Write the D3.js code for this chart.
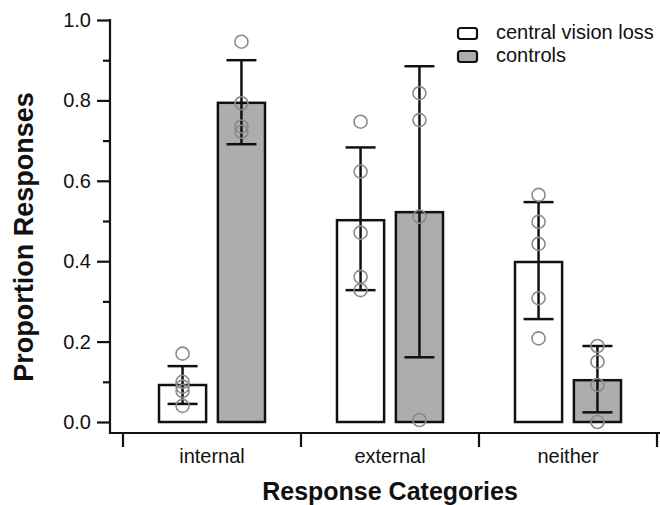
<!DOCTYPE html>
<html>
<head>
<meta charset="utf-8">
<script src="https://cdn.jsdelivr.net/npm/d3@7"></script>
<style>
  body { margin: 0; background: #fff; }
  svg { font-family: "Liberation Sans", Arial, Helvetica, sans-serif; }
  .tickLabel { font-size: 20px; fill: #111; }
  .axisTitle { font-weight: bold; fill: #111; }
</style>
</head>
<body>
<script>
//chart data
var categories = ["internal", "external", "neither"];
var groups = ["central vision loss", "controls"];
//bar heights (mean proportions)
var cvlMeans = [0.092, 0.502, 0.398];
var ctlMeans = [0.794, 0.522, 0.104];
//error bar ends
var cvlLow = [0.045, 0.328, 0.256];
var cvlHigh = [0.139, 0.683, 0.547];
var ctlLow = [0.691, 0.161, 0.024];
var ctlHigh = [0.900, 0.885, 0.189];
//individual participants
var cvlPoints = [
  [0.17, 0.10, 0.088, 0.077, 0.04],
  [0.747, 0.623, 0.471, 0.361, 0.328],
  [0.565, 0.498, 0.443, 0.308, 0.208]
];
var ctlPoints = [
  [0.946, 0.793, 0.735, 0.722],
  [0.818, 0.751, 0.511, 0.005],
  [0.189, 0.150, 0.092, 0.0]
];
var yMajor = [0, 0.2, 0.4, 0.6, 0.8, 1.0];
var yMinor = [0.1, 0.3, 0.5, 0.7, 0.9];

window.onload = function() {
  var w = 660, h = 505;
  var svg = d3.select("body").append("svg")
    .attr("width", w)
    .attr("height", h);

  //scales
  var y = d3.scaleLinear().domain([0, 1]).range([422, 20]);
  var x = d3.scaleBand().domain(categories).range([123, 657]);
  var xSub = d3.scaleBand().domain(groups).range([36, 142]).paddingInner(0.2);
  var fills = {"central vision loss": "#ffffff", "controls": "#adadad"};
  var axisY = 433;

  //one record per bar
  var bars = [];
  categories.forEach(function(c, i) {
    bars.push({cat: c, grp: groups[0], mean: cvlMeans[i], lo: cvlLow[i], hi: cvlHigh[i], pts: cvlPoints[i]});
    bars.push({cat: c, grp: groups[1], mean: ctlMeans[i], lo: ctlLow[i], hi: ctlHigh[i], pts: ctlPoints[i]});
  });
  function cx(d) { return x(d.cat) + xSub(d.grp) + xSub.bandwidth() / 2; }

  //y axis line
  svg.append("line")
    .attr("x1", 110).attr("x2", 110)
    .attr("y1", y(1) - 1).attr("y2", axisY + 1)
    .attr("stroke", "#111").attr("stroke-width", 2.2);

  //major ticks with labels
  var yAxis = svg.append("g")
    .attr("transform", "translate(110,0)")
    .call(d3.axisLeft(y).tickValues(yMajor).tickSize(13).tickPadding(6).tickFormat(d3.format(".1f")));
  yAxis.select(".domain").remove();
  yAxis.selectAll("line").attr("stroke", "#111").attr("stroke-width", 2.2);
  yAxis.selectAll("text").attr("class", "tickLabel").attr("font-size", null).attr("font-family", null).attr("fill", "#111");

  //minor ticks
  var yMinorAxis = svg.append("g")
    .attr("transform", "translate(110,0)")
    .call(d3.axisLeft(y).tickValues(yMinor).tickSize(7).tickFormat(""));
  yMinorAxis.select(".domain").remove();
  yMinorAxis.selectAll("line").attr("stroke", "#111").attr("stroke-width", 2.2);

  //x axis line
  svg.append("line")
    .attr("x1", 109).attr("x2", w)
    .attr("y1", axisY).attr("y2", axisY)
    .attr("stroke", "#111").attr("stroke-width", 2.2);

  //x ticks at category boundaries
  var bounds = categories.map(function(c) { return x(c); }).concat([x.range()[1]]);
  svg.selectAll(".xtick").data(bounds).enter().append("line")
    .attr("class", "xtick")
    .attr("x1", function(d) { return d; }).attr("x2", function(d) { return d; })
    .attr("y1", axisY).attr("y2", axisY + 14)
    .attr("stroke", "#111").attr("stroke-width", 2.2);

  //category labels
  svg.selectAll(".xlabel").data(categories).enter().append("text")
    .attr("class", "tickLabel")
    .attr("text-anchor", "middle")
    .attr("x", function(d) { return x(d) + x.bandwidth() / 2; })
    .attr("y", 463)
    .text(function(d) { return d; });

  //bars
  svg.selectAll(".bar").data(bars).enter().append("rect")
    .attr("class", "bar")
    .attr("x", function(d) { return x(d.cat) + xSub(d.grp); })
    .attr("width", xSub.bandwidth())
    .attr("y", function(d) { return y(d.mean); })
    .attr("height", function(d) { return y(0) - y(d.mean); })
    .attr("fill", function(d) { return fills[d.grp]; })
    .attr("stroke", "#111").attr("stroke-width", 2.5);

  //error bars
  var err = svg.selectAll(".err").data(bars).enter().append("g").attr("class", "err")
    .attr("stroke", "#111").attr("stroke-width", 2.5);
  err.append("line")
    .attr("x1", cx).attr("x2", cx)
    .attr("y1", function(d) { return y(d.lo); })
    .attr("y2", function(d) { return y(d.hi); });
  err.append("line")
    .attr("x1", function(d) { return cx(d) - 15; }).attr("x2", function(d) { return cx(d) + 15; })
    .attr("y1", function(d) { return y(d.hi); }).attr("y2", function(d) { return y(d.hi); });
  err.append("line")
    .attr("x1", function(d) { return cx(d) - 15; }).attr("x2", function(d) { return cx(d) + 15; })
    .attr("y1", function(d) { return y(d.lo); }).attr("y2", function(d) { return y(d.lo); });

  //participant circles
  var pts = [];
  bars.forEach(function(b) {
    b.pts.forEach(function(v) { pts.push({cat: b.cat, grp: b.grp, v: v}); });
  });
  svg.selectAll(".pt").data(pts).enter().append("circle")
    .attr("class", "pt")
    .attr("cx", cx)
    .attr("cy", function(d) { return y(d.v); })
    .attr("r", 6.5)
    .attr("fill", "none")
    .attr("stroke", "#8a8a8a").attr("stroke-width", 1.6);

  //legend
  var legend = svg.selectAll(".legend").data(groups).enter().append("g")
    .attr("class", "legend")
    .attr("transform", function(d, i) { return "translate(458," + (28 + i * 23) + ")"; });
  legend.append("rect")
    .attr("width", 19).attr("height", 11).attr("rx", 2.5)
    .attr("fill", function(d) { return fills[d]; })
    .attr("stroke", "#111").attr("stroke-width", 2.2);
  legend.append("text")
    .attr("class", "tickLabel")
    .attr("x", 38).attr("y", 11)
    .text(function(d) { return d; });

  //axis titles
  svg.append("text")
    .attr("class", "axisTitle")
    .attr("text-anchor", "middle")
    .attr("font-size", 25)
    .attr("x", 390).attr("y", 500)
    .text("Response Categories");
  svg.append("text")
    .attr("class", "axisTitle")
    .attr("text-anchor", "middle")
    .attr("font-size", 27)
    .attr("transform", "translate(33,237) rotate(-90)")
    .text("Proportion Responses");
};
</script>
</body>
</html>
